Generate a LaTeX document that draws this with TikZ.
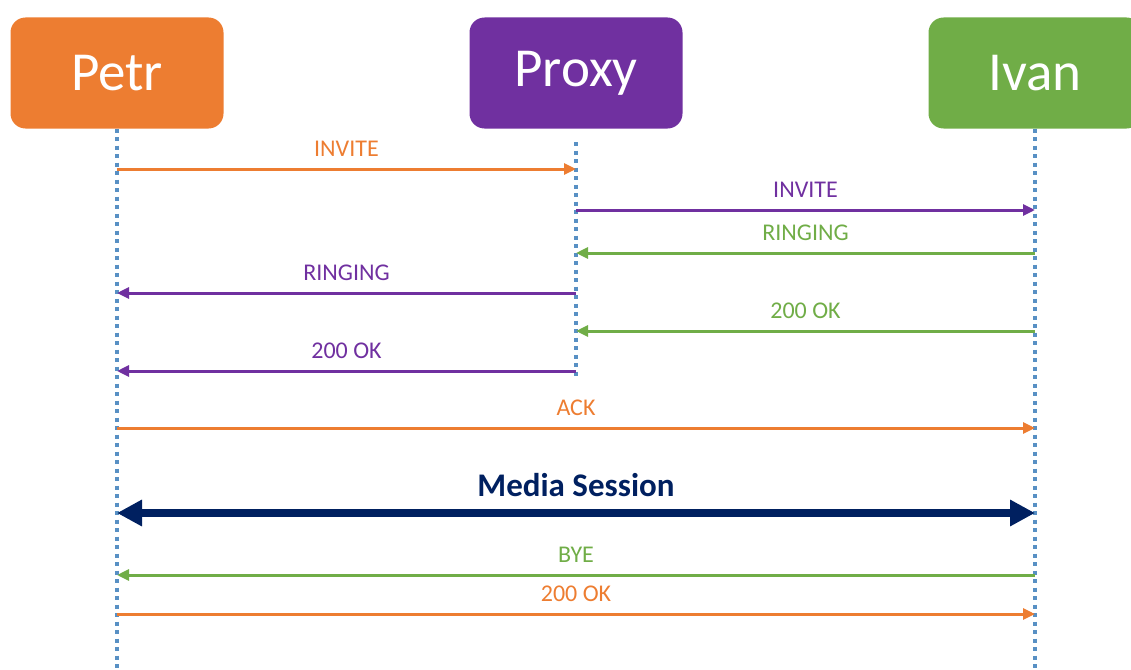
\documentclass[tikz,border=0pt]{standalone}
\usepackage{fontspec}
\setmainfont{Carlito}
\usetikzlibrary{arrows.meta,calc}

\definecolor{sorange}{RGB}{237,125,49}
\definecolor{spurple}{RGB}{112,48,160}
\definecolor{sgreen}{RGB}{112,173,71}
\definecolor{snavy}{RGB}{0,32,96}
\definecolor{sline}{RGB}{88,144,196}

\tikzset{
	actor/.style={rounded corners=15pt,minimum width=213pt,minimum height=111pt,
		text=white,font=\fontsize{55}{60}\selectfont},
	lifeline/.style={sline,line width=3.5pt,dash pattern=on 4pt off 4.5pt},
	msg/.style={line width=3pt,-{Triangle[length=12pt,width=11pt]}},
	lbl/.style={midway,above=11pt,inner sep=0pt,text depth=0pt,font=\fontsize{24}{26}\selectfont},
}

\begin{document}
\begin{tikzpicture}[x=1pt,y=-1pt]
	\useasboundingbox (0,0) rectangle (1131,669);
	\clip (0,0) rectangle (1131,669);
	% the three parties
	\node[actor,fill=sorange] (petr) at (117,73) {Petr};
	\node[actor,fill=spurple] (proxy) at (576,73) {Proxy};
	\node[actor,fill=sgreen] (ivan) at (1035,73) {Ivan};
	% lifelines
	\draw[lifeline] (petr.south) -- (petr |- 0,669);
	\draw[lifeline] (proxy |- 0,142) -- (proxy |- 0,378);
	\draw[lifeline] (ivan.south) -- (ivan |- 0,669);
	% call setup through the proxy
	\draw[msg,sorange] (petr |- 0,169) -- node[lbl]{INVITE} (proxy |- 0,169);
	\draw[msg,spurple] (proxy |- 0,210) -- node[lbl]{INVITE} (ivan |- 0,210);
	\draw[msg,sgreen] (ivan |- 0,253) -- node[lbl]{RINGING} (proxy |- 0,253);
	\draw[msg,spurple] (proxy |- 0,293) -- node[lbl]{RINGING} (petr |- 0,293);
	\draw[msg,sgreen] (ivan |- 0,331) -- node[lbl]{200 OK} (proxy |- 0,331);
	\draw[msg,spurple] (proxy |- 0,371) -- node[lbl]{200 OK} (petr |- 0,371);
	\draw[msg,sorange] (petr |- 0,428) -- node[lbl]{ACK} (ivan |- 0,428);
	% direct media
	\draw[snavy,line width=8pt,{Triangle[length=25pt,width=25pt]}-{Triangle[length=25pt,width=25pt]}]
		(petr |- 0,513) -- node[midway,above=13pt,inner sep=0pt,text depth=0pt,
		font=\bfseries\fontsize{33}{36}\selectfont]{Media Session} (ivan |- 0,513);
	% teardown
	\draw[msg,sgreen] (ivan |- 0,575) -- node[lbl]{BYE} (petr |- 0,575);
	\draw[msg,sorange] (petr |- 0,614) -- node[lbl]{200 OK} (ivan |- 0,614);
\end{tikzpicture}
\end{document}
